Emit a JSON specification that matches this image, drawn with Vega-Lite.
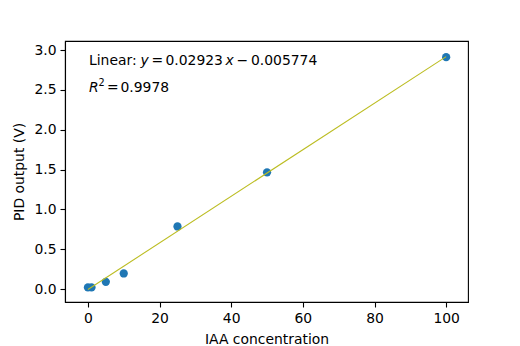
{
  "$schema": "https://vega.github.io/schema/vega-lite/v6.json",
  "width": 403,
  "height": 261,
  "autosize": "none",
  "padding": {"left": 65, "top": 41, "right": 52, "bottom": 44},
  "background": "white",
  "config": {
    "font": "DejaVu Sans",
    "view": {"stroke": "black", "strokeWidth": 1.1},
    "text": {"font": "DejaVu Sans", "fontSize": 13.9, "color": "black", "align": "left", "baseline": "middle"},
    "axis": {
      "grid": false,
      "domainColor": "black",
      "domainWidth": 1.1,
      "tickColor": "black",
      "tickWidth": 1.1,
      "tickSize": 5,
      "labelFont": "DejaVu Sans",
      "labelFontSize": 13.9,
      "labelColor": "black",
      "labelPadding": 4,
      "titleFont": "DejaVu Sans",
      "titleFontSize": 13.9,
      "titleFontWeight": "normal",
      "titleColor": "black"
    }
  },
  "datasets": {
    "points": [
      {"conc": 0, "v": 0.02},
      {"conc": 1, "v": 0.02},
      {"conc": 5, "v": 0.09},
      {"conc": 10, "v": 0.195},
      {"conc": 25, "v": 0.785},
      {"conc": 50, "v": 1.465},
      {"conc": 100, "v": 2.91}
    ],
    "fit": [
      {"conc": 0, "v": -0.005774},
      {"conc": 100, "v": 2.917226}
    ],
    "one": [{}]
  },
  "layer": [
    {
      "data": {"name": "points"},
      "mark": {"type": "point", "filled": true, "opacity": 1, "size": 68, "color": "#1f77b4"},
      "encoding": {
        "x": {"field": "conc", "type": "quantitative", "scale": {"domain": [-6.4, 106.1], "nice": false, "zero": false},
              "axis": {"values": [0, 20, 40, 60, 80, 100], "title": "IAA concentration", "titlePadding": 8}},
        "y": {"field": "v", "type": "quantitative", "scale": {"domain": [-0.163, 3.113], "nice": false, "zero": false},
              "axis": {"values": [0, 0.5, 1, 1.5, 2, 2.5, 3], "format": ".1f", "title": "PID output (V)", "titlePadding": 7}}
      }
    },
    {
      "data": {"name": "fit"},
      "mark": {"type": "line", "color": "#bcbd22", "strokeWidth": 1.1},
      "encoding": {
        "x": {"field": "conc", "type": "quantitative"},
        "y": {"field": "v", "type": "quantitative"}
      }
    },
    {
      "data": {"name": "one"},
      "mark": {"type": "text", "text": "Linear:", "dx": 0},
      "encoding": {"x": {"datum": 0.3}, "y": {"datum": 2.86}}
    },
    {
      "data": {"name": "one"},
      "mark": {"type": "text", "text": "y", "fontStyle": "italic", "dx": 51.5},
      "encoding": {"x": {"datum": 0.3}, "y": {"datum": 2.86}}
    },
    {
      "data": {"name": "one"},
      "mark": {"type": "text", "text": "=", "dx": 62.5},
      "encoding": {"x": {"datum": 0.3}, "y": {"datum": 2.86}}
    },
    {
      "data": {"name": "one"},
      "mark": {"type": "text", "text": "0.02923", "dx": 76.5},
      "encoding": {"x": {"datum": 0.3}, "y": {"datum": 2.86}}
    },
    {
      "data": {"name": "one"},
      "mark": {"type": "text", "text": "x", "fontStyle": "italic", "dx": 136.5},
      "encoding": {"x": {"datum": 0.3}, "y": {"datum": 2.86}}
    },
    {
      "data": {"name": "one"},
      "mark": {"type": "text", "text": "−", "dx": 147.5},
      "encoding": {"x": {"datum": 0.3}, "y": {"datum": 2.86}}
    },
    {
      "data": {"name": "one"},
      "mark": {"type": "text", "text": "0.005774", "dx": 162},
      "encoding": {"x": {"datum": 0.3}, "y": {"datum": 2.86}}
    },
    {
      "data": {"name": "one"},
      "mark": {"type": "text", "text": "R", "fontStyle": "italic", "dx": 0},
      "encoding": {"x": {"datum": 0.3}, "y": {"datum": 2.52}}
    },
    {
      "data": {"name": "one"},
      "mark": {"type": "text", "text": "2", "fontSize": 9.7, "dx": 9.5, "dy": -5.5},
      "encoding": {"x": {"datum": 0.3}, "y": {"datum": 2.52}}
    },
    {
      "data": {"name": "one"},
      "mark": {"type": "text", "text": "=", "dx": 18},
      "encoding": {"x": {"datum": 0.3}, "y": {"datum": 2.52}}
    },
    {
      "data": {"name": "one"},
      "mark": {"type": "text", "text": "0.9978", "dx": 31.5},
      "encoding": {"x": {"datum": 0.3}, "y": {"datum": 2.52}}
    }
  ]
}
